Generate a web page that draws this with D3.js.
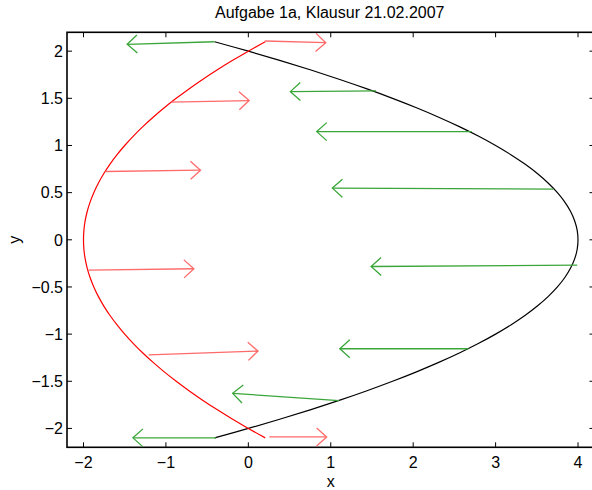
<!DOCTYPE html>
<html>
<head>
<meta charset="utf-8">
<script src="https://cdn.jsdelivr.net/npm/d3@7"></script>
<style>
  body { margin: 0; background: #fff; }
  text { font-family: "Liberation Sans", Arial, sans-serif; fill: #000; }
</style>
</head>
<body>
<div id="chart"></div>
<script>
// curve samples
var curveY = [-2.1, -2.0, -1.9, -1.8, -1.7, -1.6, -1.5, -1.4, -1.3, -1.2, -1.1, -1.0, -0.9, -0.8, -0.7, -0.6, -0.5, -0.4, -0.3, -0.2, -0.1, 0,
              0.1, 0.2, 0.3, 0.4, 0.5, 0.6, 0.7, 0.8, 0.9, 1.0, 1.1, 1.2, 1.3, 1.4, 1.5, 1.6, 1.7, 1.8, 1.9, 2.0, 2.1];
var blackX = [-0.41, 0, 0.39, 0.76, 1.11, 1.44, 1.75, 2.04, 2.31, 2.56, 2.79, 3.0, 3.19, 3.36, 3.51, 3.64, 3.75, 3.84, 3.91, 3.96, 3.99, 4.0,
              3.99, 3.96, 3.91, 3.84, 3.75, 3.64, 3.51, 3.36, 3.19, 3.0, 2.79, 2.56, 2.31, 2.04, 1.75, 1.44, 1.11, 0.76, 0.39, 0, -0.41];
var redX = [0.205, 0, -0.195, -0.38, -0.555, -0.72, -0.875, -1.02, -1.155, -1.28, -1.395, -1.5, -1.595, -1.68, -1.755, -1.82, -1.875, -1.92, -1.955, -1.98, -1.995, -2.0,
            -1.995, -1.98, -1.955, -1.92, -1.875, -1.82, -1.755, -1.68, -1.595, -1.5, -1.395, -1.28, -1.155, -1.02, -0.875, -0.72, -0.555, -0.38, -0.195, 0, 0.205];

// green arrows: start on black curve, tip to the left
var greenX0 = [-0.41, 1.55, 2.71, 3.70, 3.99, 2.67, 1.10, -0.39];
var greenY0 = [2.10, 1.58, 1.147, 0.537, -0.268, -1.155, -1.706, -2.10];
var greenX1 = [-1.47, 0.51, 0.83, 1.02, 1.49, 1.11, -0.19, -1.40];
var greenY1 = [2.073, 1.571, 1.147, 0.548, -0.283, -1.155, -1.628, -2.10];

// red arrows: start on red curve, tip to the right
var redX0 = [0.20, -0.94, -1.735, -1.94, -1.21, 0.255];
var redY0 = [2.108, 1.459, 0.724, -0.321, -1.22, -2.09];
var redX1 = [0.94, 0.01, -0.58, -0.66, 0.118, 0.95];
var redY1 = [2.09, 1.476, 0.738, -0.307, -1.179, -2.09];

var xTicks = [-2, -1, 0, 1, 2, 3, 4];
var yTicks = [-2, -1.5, -1, -0.5, 0, 0.5, 1, 1.5, 2];

var width = 592, height = 490;
var pLeft = 67, pRight = 594.5, pTop = 32.3, pBottom = 447.3;
var fs = 16;

var x = d3.scaleLinear().domain([-2.2, 4.2]).range([pLeft, pRight]);
var y = d3.scaleLinear().domain([-2.2, 2.2]).range([pBottom, pTop]);

var svg = d3.select('#chart')
    .append('svg')
    .attr('width', width)
    .attr('height', height);

// box
svg.append('rect')
    .attr('x', pLeft).attr('y', pTop)
    .attr('width', pRight - pLeft).attr('height', pBottom - pTop)
    .attr('fill', 'none').attr('stroke', '#000').attr('stroke-width', 1.6);

// ticks on all sides, pointing inward
var tl = 5;
xTicks.forEach(function(t) {
    svg.append('line').attr('x1', x(t)).attr('x2', x(t)).attr('y1', pBottom).attr('y2', pBottom - tl).attr('stroke', '#000');
    svg.append('line').attr('x1', x(t)).attr('x2', x(t)).attr('y1', pTop).attr('y2', pTop + tl).attr('stroke', '#000');
    svg.append('text')
        .attr('x', x(t)).attr('y', pBottom + 21)
        .attr('text-anchor', 'middle')
        .attr('font-size', fs)
        .text(t < 0 ? '\u2212' + Math.abs(t) : t);
});
yTicks.forEach(function(t) {
    svg.append('line').attr('x1', pLeft).attr('x2', pLeft + tl).attr('y1', y(t)).attr('y2', y(t)).attr('stroke', '#000');
    svg.append('line').attr('x1', pRight).attr('x2', pRight - tl).attr('y1', y(t)).attr('y2', y(t)).attr('stroke', '#000');
    svg.append('text')
        .attr('x', pLeft - 4).attr('y', y(t) + 5.7)
        .attr('text-anchor', 'end')
        .attr('font-size', fs)
        .text(t < 0 ? '\u2212' + Math.abs(t) : t);
});

// labels
svg.append('text')
    .attr('x', (pLeft + pRight) / 2 - 1).attr('y', 18)
    .attr('text-anchor', 'middle').attr('font-size', fs)
    .text('Aufgabe 1a, Klausur 21.02.2007');
svg.append('text')
    .attr('x', x(1)).attr('y', 487)
    .attr('text-anchor', 'middle').attr('font-size', fs)
    .text('x');
svg.append('text')
    .attr('transform', 'translate(19.5,' + y(0) + ') rotate(-90)')
    .attr('text-anchor', 'middle').attr('font-size', fs)
    .text('y');

// curves
var line = d3.line()
    .x(function(d) { return x(d[0]); })
    .y(function(d) { return y(d[1]); })
    .curve(d3.curveCatmullRom);

svg.append('path')
    .datum(curveY.map(function(v, i) { return [blackX[i], v]; }))
    .attr('d', line)
    .attr('fill', 'none').attr('stroke', '#000').attr('stroke-width', 1.2);

svg.append('path')
    .datum(curveY.map(function(v, i) { return [redX[i], v]; }))
    .attr('d', line)
    .attr('fill', 'none').attr('stroke', '#ff0000').attr('stroke-width', 1.2);

// arrows
function drawArrows(x0, y0, x1, y1, color) {
    var g = svg.append('g')
        .attr('fill', 'none')
        .attr('stroke', color)
        .attr('stroke-width', 1.3);
    x0.forEach(function(d, i) {
        var ax = x(x0[i]), ay = y(y0[i]), bx = x(x1[i]), by = y(y1[i]);
        var len = Math.hypot(bx - ax, by - ay);
        var ux = (bx - ax) / len, uy = (by - ay) / len;
        var hl = 10, hw = 9;
        g.append('line').attr('x1', ax).attr('y1', ay).attr('x2', bx).attr('y2', by);
        g.append('path').attr('d',
            'M' + (bx - hl * ux - hw * uy) + ',' + (by - hl * uy + hw * ux) +
            'L' + bx + ',' + by +
            'L' + (bx - hl * ux + hw * uy) + ',' + (by - hl * uy - hw * ux));
    });
}
drawArrows(greenX0, greenY0, greenX1, greenY1, '#3aa63a');
drawArrows(redX0, redY0, redX1, redY1, '#ff6a6a');
</script>
</body>
</html>
